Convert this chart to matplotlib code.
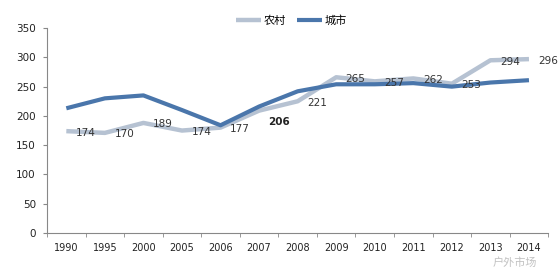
import matplotlib
matplotlib.use("Agg")
import matplotlib.pyplot as plt
import numpy as np

plt.rcParams['font.family'] = ['DejaVu Sans', 'Noto Sans CJK SC']

years = ["1990", "1995", "2000", "2005", "2006", "2007", "2008",
         "2009", "2010", "2011", "2012", "2013", "2014"]
# 农村 (rural) - line values
rural = [174, 171, 188, 175, 180, 209, 225, 266, 259, 264, 255, 295, 297]
# 城市 (urban)
urban = [213, 230, 235, 210, 184, 216, 242, 254, 254, 256, 250, 257, 261]
# numbers printed on the chart
rural_labels = ["174", "170", "189", "174", "177", "206", "221",
                "265", "257", "262", "253", "294", "296"]

gray = "#b6c2d2"
blue = "#4a76ab"

fig = plt.figure(figsize=(5.6, 2.7), dpi=100)
ax = fig.add_axes([0.084, 0.137, 0.895, 0.759])

x = np.arange(len(years))
ax.plot(x, rural, color=gray, lw=3.2, label="农村", solid_capstyle="butt")
ax.plot(x, urban, color=blue, lw=3.0, label="城市", solid_capstyle="butt")

for i, (v, t) in enumerate(zip(rural, rural_labels)):
    bold = t == "206"
    ax.annotate(t, (x[i], v), xytext=(14, -1 if not bold else -8),
                textcoords="offset points", ha="center", va="center",
                fontsize=7.5, color="#222222" if bold else "#333333",
                fontweight="bold" if bold else "normal")

ax.set_xlim(-0.5, len(years) - 0.5)
ax.set_ylim(0, 350)
ax.set_yticks(np.arange(0, 351, 50))
ax.set_xticks(x)
ax.set_xticklabels(years)
ax.set_xticks(np.arange(-0.5, len(years), 1), minor=True)
ax.tick_params(axis="x", which="major", length=0, labelsize=7, pad=7, colors="#222222")
ax.tick_params(axis="x", which="minor", length=3, direction="out", color="#888888")
ax.tick_params(axis="y", length=3, labelsize=7.5, pad=5, colors="#222222", color="#888888")

for s in ["top", "right"]:
    ax.spines[s].set_visible(False)
for s in ["left", "bottom"]:
    ax.spines[s].set_color("#888888")
    ax.spines[s].set_linewidth(0.8)

leg = fig.legend(loc="center", bbox_to_anchor=(0.52, 0.925), ncol=2, frameon=False,
                 prop={"family": ["Noto Sans CJK SC"], "size": 8},
                 handlelength=2.3, handletextpad=0.2, columnspacing=1.0)

fig.text(0.92, 0.028, "户外市场", fontsize=8, color="#999999", alpha=0.6,
         ha="center", va="center", family=["Noto Sans CJK SC"])

fig.savefig("out.png", dpi=100)
